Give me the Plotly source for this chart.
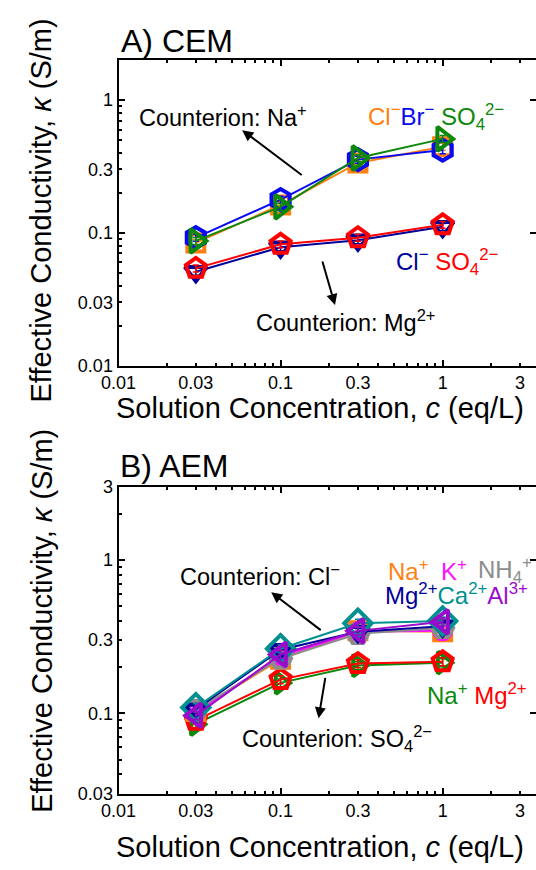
import math
import plotly.graph_objects as go

W, H = 536, 870
FONT = "Liberation Sans, Arial, sans-serif"

# ---------------- data ----------------
conc = [0.03, 0.1, 0.3, 1.0]

# Panel A: CEM, counterion Na+ (co-ions Cl-, Br-, SO4 2-) and Mg2+ (Cl-, SO4 2-)
cem_na_cl = [0.084, 0.162, 0.336, 0.446]
cem_na_br = [0.092, 0.178, 0.356, 0.420]
cem_na_so4 = [0.087, 0.157, 0.366, 0.510]
cem_mg_cl = [0.051, 0.078, 0.088, 0.111]
cem_mg_so4 = [0.054, 0.082, 0.092, 0.115]

# Panel B: AEM, counterion Cl- and SO4 2-
aem_cl_na = [0.103, 0.225, 0.345, 0.340]
aem_cl_k = [0.102, 0.235, 0.340, 0.345]
aem_cl_nh4 = [0.105, 0.228, 0.330, 0.360]
aem_cl_mg = [0.106, 0.260, 0.340, 0.370]
aem_cl_ca = [0.109, 0.264, 0.387, 0.400]
aem_cl_al = [0.097, 0.242, 0.345, 0.395]
aem_so4_na = [0.085, 0.158, 0.205, 0.214]
aem_so4_mg = [0.090, 0.166, 0.211, 0.217]

err_pct = 6

x_tick_vals = [0.01, 0.03, 0.1, 0.3, 1, 3]
x_tick_text = ["0.01", "0.03", "0.1", "0.3", "1", "3"]
ya_tick_vals = [0.01, 0.03, 0.1, 0.3, 1]
ya_tick_text = ["0.01", "0.03", "0.1", "0.3", "1"]
yb_tick_vals = [0.03, 0.1, 0.3, 1, 3]
yb_tick_text = ["0.03", "0.1", "0.3", "1", "3"]
decades = [0.01, 0.1, 1, 10]

C_OR = "#FF8010"
C_BL = "#0A0AF0"
C_GR = "#0C880C"
C_NV = "#00009A"
C_RD = "#FF0000"
C_MG = "#FF10FF"
C_GY = "#8C8C8C"
C_TL = "#009090"
C_PU = "#9A0ACD"

fig = go.Figure()


def add(y, color, symbol, xa, ya, size=21):
    fig.add_trace(go.Scatter(
        x=conc, y=y, xaxis=xa, yaxis=ya, mode="lines+markers",
        line=dict(color=color, width=2),
        marker=dict(symbol=symbol, size=size, color=color,
                    line=dict(color=color, width=4)),
        error_y=dict(type="percent", value=err_pct, color=color,
                     thickness=1.5, width=3),
        showlegend=False, cliponaxis=False))


# Panel A
add(cem_mg_cl, C_NV, "triangle-down-open", "x", "y", 19)
add(cem_mg_so4, C_RD, "pentagon-open", "x", "y")
add(cem_na_cl, C_OR, "square-open", "x", "y", 17)
add(cem_na_br, C_BL, "hexagon-open", "x", "y")
add(cem_na_so4, C_GR, "triangle-right-open", "x", "y")

# Panel B
add(aem_so4_na, C_GR, "triangle-right-open", "x2", "y2", 19)
add(aem_so4_mg, C_RD, "pentagon-open", "x2", "y2")
add(aem_cl_na, C_OR, "square-open", "x2", "y2", 17)
add(aem_cl_k, C_MG, "circle-open", "x2", "y2", 17)
add(aem_cl_nh4, C_GY, "hexagon2-open", "x2", "y2")
add(aem_cl_mg, C_NV, "triangle-down-open", "x2", "y2", 19)
add(aem_cl_ca, C_TL, "diamond-open", "x2", "y2")
add(aem_cl_al, C_PU, "triangle-left-open", "x2", "y2")

# dummy traces so overlay axes (decade ticks) are drawn
fig.add_trace(go.Scatter(x=[None], y=[None], xaxis="x3", yaxis="y3", showlegend=False))
fig.add_trace(go.Scatter(x=[None], y=[None], xaxis="x4", yaxis="y4", showlegend=False))


def px(xp, yp):
    return xp / W, 1 - yp / H


x_dom = [104 / W, 1.0]
x_rng = [-2, 0.576]
ya_dom = [1 - 364 / H, 1 - 51 / H]
ya_rng = [-2, 0.303]
yb_dom = [1 - 802 / H, 1 - 488 / H]
yb_rng = [math.log10(0.03), math.log10(3)]

tickfont = dict(family=FONT, size=18, color="black")


def minor_vals(lo, hi):
    out = []
    for d in decades:
        for m in range(2, 10):
            v = d * m
            if lo < v < hi and m != 3:
                out.append(v)
    return out


def main_axis(dom, rng, tv, tt, anchor, minv, mirror):
    return dict(type="log", domain=dom, range=rng, anchor=anchor,
                tickmode="array", tickvals=tv, ticktext=tt,
                ticks="inside", ticklen=3, tickwidth=1.5, tickcolor="black",
                minor=dict(tickmode="array", tickvals=minv, ticks="inside",
                           ticklen=3, tickwidth=1.5, tickcolor="black"),
                showline=True, linewidth=2, linecolor="black", mirror=mirror,
                showgrid=False, zeroline=False, tickfont=tickfont)


def over_axis(dom, rng, overlay, anchor):
    return dict(type="log", domain=dom, range=rng, overlaying=overlay, anchor=anchor,
                tickmode="array", tickvals=decades, ticks="inside", ticklen=6,
                tickwidth=1.5, tickcolor="black", showticklabels=False,
                showline=False, mirror="ticks", showgrid=False, zeroline=False)


fig.update_layout(
    width=W, height=H, margin=dict(l=0, r=0, t=0, b=0),
    paper_bgcolor="white", plot_bgcolor="white",
    font=dict(family=FONT, color="black"),
    xaxis=main_axis(x_dom, x_rng, x_tick_vals, x_tick_text, "y",
                    minor_vals(0.01, 4), "ticks"),
    yaxis=main_axis(ya_dom, ya_rng, ya_tick_vals, ya_tick_text, "x",
                    minor_vals(0.01, 2.05), False),
    xaxis2=main_axis(x_dom, x_rng, x_tick_vals, x_tick_text, "y2",
                     minor_vals(0.01, 4), "ticks"),
    yaxis2=main_axis(yb_dom, yb_rng, yb_tick_vals, yb_tick_text, "x2",
                     minor_vals(0.03, 3), False),
    xaxis3=over_axis(x_dom, x_rng, "x", "y3"),
    yaxis3=over_axis(ya_dom, ya_rng, "y", "x3"),
    xaxis4=over_axis(x_dom, x_rng, "x2", "y4"),
    yaxis4=over_axis(yb_dom, yb_rng, "y2", "x4"),
)

anns = []


def text(xp, yp, s, size=23.5, color="black", xanchor="center", angle=0):
    x, y = px(xp, yp)
    anns.append(dict(x=x, y=y, xref="paper", yref="paper", text=s, showarrow=False,
                     xanchor=xanchor, yanchor="middle", textangle=angle,
                     font=dict(family=FONT, size=size, color=color)))


def arrow(head, tail):
    x, y = px(*head)
    anns.append(dict(x=x, y=y, xref="paper", yref="paper", text="", showarrow=True,
                     ax=tail[0] - head[0], ay=tail[1] - head[1],
                     arrowhead=2, arrowsize=1.1, arrowwidth=2, arrowcolor="black"))


def span(s, c):
    return f"<span style='color:{c}'>{s}</span>"


# Panel titles and axis titles
text(104, 32, "A) CEM", size=32, xanchor="left")
text(103, 467, "B) AEM", size=32, xanchor="left")
ytitle = "Effective Conductivity, <i>κ</i> (S/m)"
xtitle = "Solution Concentration, <i>c</i> (eq/L)"
text(24, 205, ytitle, size=29, angle=-90)
text(24, 625, ytitle, size=29, angle=-90)
text(313, 407, xtitle, size=29)
text(313, 857, xtitle, size=29)

# Panel A labels
text(212, 108, "Counterion: Na<sup>+</sup>")
arrow((232, 123), (293, 169))
text(339, 318, "Counterion: Mg<sup>2+</sup>")
arrow((328, 302), (315, 257))
text(360, 110, span("Cl<sup>−</sup>", C_OR) + span("Br<sup>−</sup>", C_BL) + " "
     + span("SO<sub>4</sub><sup>2−</sup>", C_GR), size=24, xanchor="left")
text(389, 258, span("Cl<sup>−</sup>", C_NV) + " "
     + span("SO<sub>4</sub><sup>2−</sup>", C_RD), size=24, xanchor="left")

# Panel B labels
text(250, 578, "Counterion: Cl<sup>−</sup>")
arrow((262, 596), (313, 635))
text(330, 746, "Counterion: SO<sub>4</sub><sup>2−</sup>")
arrow((311, 725), (318, 683))
text(381, 573, span("Na<sup>+</sup>", C_OR), size=24, xanchor="left")
text(436, 573, span("K<sup>+</sup>", C_MG), size=24, xanchor="left")
text(474, 573, span("NH<sub>4</sub><sup>+</sup>", C_GY), size=24, xanchor="left")
text(378, 598, span("Mg<sup>2+</sup>", C_NV) + span("Ca<sup>2+</sup>", C_TL)
     + span("Al<sup>3+</sup>", C_PU), size=24, xanchor="left")
text(421, 700, span("Na<sup>+</sup>", C_GR) + " " + span("Mg<sup>2+</sup>", C_RD),
     size=24, xanchor="left")

fig.update_layout(annotations=anns)
fig.write_html("out.html")
